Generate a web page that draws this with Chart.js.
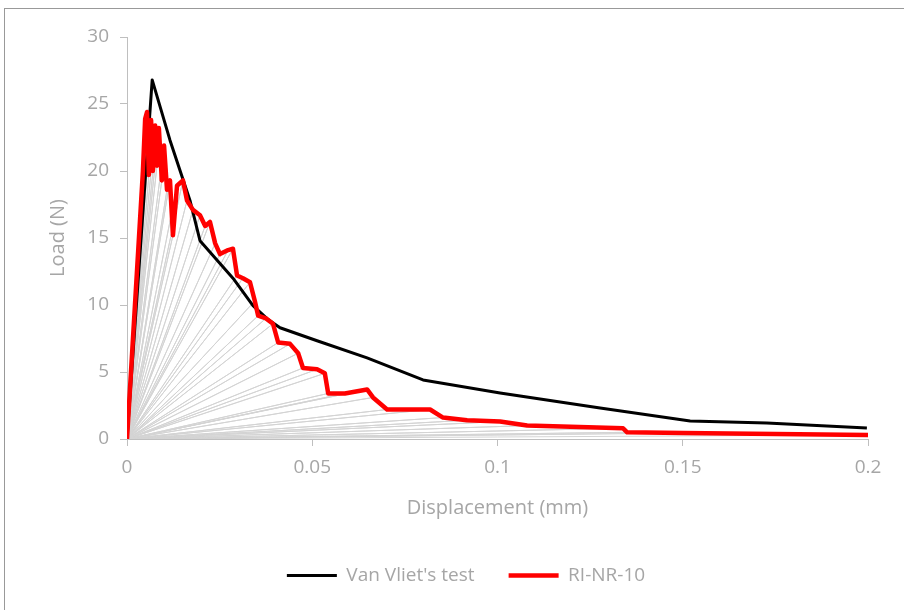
<!DOCTYPE html>
<html>
<head>
<meta charset="utf-8">
<script src="https://cdn.jsdelivr.net/npm/chart.js@4"></script>
<style>
  body { margin: 0; background: #fff; }
  #frame { position: absolute; left: 4px; top: 8px; width: 1000px; height: 1000px; border: 1px solid #999; }
  #wrap { position: absolute; left: 0; top: 0; width: 904px; height: 610px; }
</style>
</head>
<body>
<div id="frame"></div>
<div id="wrap"><canvas id="myChart" width="904" height="610"></canvas></div>
<script>
// Van Vliet's test (displacement mm, load N)
const vanVlietX = [0, 0.0068, 0.0116, 0.017, 0.0197, 0.0286, 0.034, 0.0378, 0.0413, 0.0513, 0.0648, 0.0799, 0.1007, 0.1277, 0.152, 0.1727, 0.1997];
const vanVlietY = [0, 26.8, 22.3, 17.8, 14.8, 12.0, 9.95, 8.98, 8.3, 7.33, 6.06, 4.41, 3.44, 2.32, 1.35, 1.2, 0.82];

// RI-NR-10 model
const rinrX = [0, 0.0043, 0.0049, 0.0054, 0.0059, 0.0065, 0.0070, 0.0076, 0.0081, 0.0086, 0.0094, 0.0100, 0.0108, 0.0116, 0.0124, 0.0135, 0.0151, 0.0162, 0.0178, 0.0197, 0.0211, 0.0224, 0.0238, 0.0251, 0.0273, 0.0286, 0.0297, 0.0313, 0.0332, 0.0345, 0.0354, 0.0375, 0.0394, 0.0408, 0.0440, 0.0462, 0.0475, 0.0513, 0.0534, 0.0543, 0.0588, 0.0648, 0.0664, 0.0702, 0.0818, 0.0853, 0.0918, 0.1007, 0.1080, 0.1339, 0.1350, 0.1501, 0.2];
const rinrY = [0, 20.0, 23.9, 24.4, 19.7, 23.8, 20.0, 23.4, 20.4, 23.2, 19.3, 21.9, 18.6, 19.3, 15.2, 18.9, 19.3, 17.8, 17.1, 16.7, 15.9, 16.2, 14.6, 13.8, 14.1, 14.2, 12.2, 12.0, 11.7, 10.3, 9.2, 9.0, 8.6, 7.2, 7.1, 6.4, 5.3, 5.2, 4.9, 3.4, 3.4, 3.7, 3.1, 2.2, 2.2, 1.6, 1.4, 1.3, 1.0, 0.8, 0.5, 0.45, 0.3];

const xTickValues = [0, 0.05, 0.1, 0.15, 0.2];
const xTickLabels = ["0", "0.05", "0.1", "0.15", "0.2"];
const yTickValues = [0, 5, 10, 15, 20, 25, 30];
const yTickLabels = ["0", "5", "10", "15", "20", "25", "30"];

const toPoints = (xs, ys) => xs.map((x, i) => ({ x: x, y: ys[i] }));

// unloading lines back to the origin from every model point
const fan = [];
rinrX.forEach((x, i) => {
  if (i === 0) return;
  fan.push({ x: 0, y: 0 });
  fan.push({ x: x, y: rinrY[i] });
});

const grey = "#a6a6a6";
const axisColor = "#bfbfbf";
const font = "'Open Sans', sans-serif";

const ctx = document.getElementById("myChart");
new Chart(ctx, {
  type: "scatter",
  data: {
    datasets: [
      {
        label: "Van Vliet's test",
        data: toPoints(vanVlietX, vanVlietY),
        showLine: true,
        borderColor: "#000",
        backgroundColor: "#000",
        borderWidth: 3,
        borderJoinStyle: "round",
        pointRadius: 0,
        order: 2,
      },
      {
        label: "RI-NR-10",
        data: toPoints(rinrX, rinrY),
        showLine: true,
        borderColor: "#ff0000",
        backgroundColor: "#ff0000",
        borderWidth: 4.5,
        borderJoinStyle: "round",
        pointRadius: 0,
        order: 1,
      },
      {
        label: "fan",
        data: fan,
        showLine: true,
        borderColor: "#d4d4d4",
        borderWidth: 1,
        pointRadius: 0,
        order: 3,
      },
    ],
  },
  options: {
    responsive: false,
    animation: false,
    layout: {
      padding: { top: 37, right: 36, bottom: 15, left: 64 },
    },
    plugins: {
      tooltip: { enabled: false },
      legend: {
        position: "bottom",
        labels: {
          filter: (item) => item.text !== "fan",
          sort: (a, b) => a.datasetIndex - b.datasetIndex,
          usePointStyle: true,
          pointStyle: "line",
          pointStyleWidth: 50,
          padding: 34,
          color: grey,
          font: { family: font, size: 19 },
        },
      },
    },
    scales: {
      x: {
        type: "linear",
        min: 0,
        max: 0.2,
        afterBuildTicks: (s) => {
          s.ticks = xTickValues.map((v) => ({ value: v }));
        },
        afterFit: (s) => {
          s.height = 93;
        },
        grid: {
          drawOnChartArea: false,
          color: axisColor,
          tickLength: 7,
        },
        border: { color: axisColor },
        ticks: {
          padding: 10,
          maxRotation: 0,
          color: grey,
          font: { family: font, size: 19 },
          callback: (v, i) => xTickLabels[i],
        },
        title: {
          display: true,
          text: "Displacement (mm)",
          color: grey,
          font: { family: font, size: 20 },
          padding: { top: 0, bottom: 12 },
        },
      },
      y: {
        min: 0,
        max: 30,
        afterBuildTicks: (s) => {
          s.ticks = yTickValues.map((v) => ({ value: v }));
        },
        afterFit: (s) => {
          s.width = 63;
        },
        grid: {
          drawOnChartArea: false,
          color: axisColor,
          tickLength: 7,
        },
        border: { color: axisColor },
        ticks: {
          padding: 11,
          color: grey,
          font: { family: font, size: 19 },
          callback: (v, i) => yTickLabels[i],
        },
        title: {
          display: true,
          text: "Load (N)",
          color: grey,
          font: { family: font, size: 20 },
          padding: { top: -18, bottom: 0 },
        },
      },
    },
  },
});
</script>
</body>
</html>
